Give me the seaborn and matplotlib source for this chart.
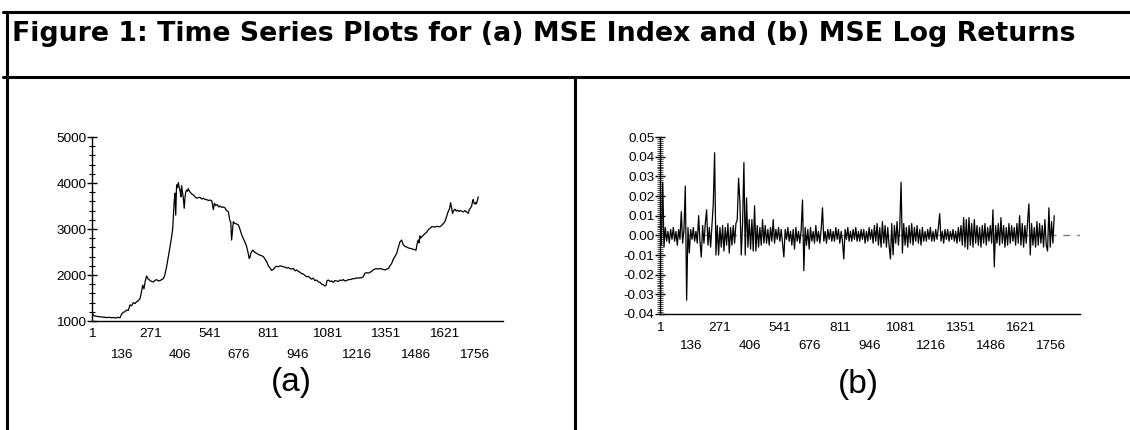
import numpy as np
import matplotlib
matplotlib.use("Agg")
import matplotlib.pyplot as plt
from matplotlib.lines import Line2D
from matplotlib.ticker import MultipleLocator, FormatStrFormatter
import seaborn as sns

# --- data ---
# (a) MSE index level
index_day = [1, 6, 12, 20, 30, 40, 50, 60, 70, 80, 90, 100, 110, 120, 130,
             137, 145, 152, 160, 168, 176, 183, 191, 199, 206, 214, 222, 228, 234, 240,
             245, 252, 258, 268, 275, 283, 290, 298, 306, 314, 322, 329, 336, 344, 352,
             360, 367, 372, 375, 379, 383, 386, 390, 394, 398, 402, 406, 410, 413, 417,
             421, 425, 429, 432, 436, 440, 444, 448, 452, 460, 467, 475, 482, 490, 498,
             506, 514, 521, 528, 536, 544, 552, 559, 564, 570, 577, 584, 590, 598, 605,
             612, 620, 628, 634, 639, 643, 647, 651, 658, 666, 674, 681, 689, 696, 704,
             712, 718, 724, 727, 732, 740, 748, 758, 766, 773, 781, 789, 797, 804, 812,
             820, 827, 835, 843, 850, 858, 866, 873, 881, 889, 896, 904, 911, 919, 927,
             935, 942, 950, 957, 965, 973, 980, 988, 996, 1003, 1010, 1018, 1026, 1034, 1042,
             1050, 1057, 1064, 1072, 1077, 1082, 1088, 1096, 1104, 1110, 1118, 1126, 1134, 1141, 1149,
             1157, 1164, 1172, 1180, 1187, 1195, 1202, 1210, 1218, 1225, 1233, 1241, 1248, 1256, 1264,
             1272, 1280, 1287, 1294, 1302, 1310, 1318, 1325, 1333, 1341, 1349, 1356, 1364, 1371, 1379,
             1386, 1394, 1402, 1410, 1417, 1425, 1432, 1440, 1448, 1455, 1463, 1470, 1478, 1485, 1491,
             1496, 1501, 1505, 1509, 1513, 1517, 1524, 1532, 1540, 1548, 1555, 1563, 1570, 1578, 1586,
             1594, 1601, 1609, 1617, 1624, 1632, 1639, 1645, 1650, 1655, 1659, 1664, 1670, 1676, 1682,
             1688, 1693, 1700, 1708, 1716, 1724, 1731, 1736, 1741, 1747, 1751, 1754, 1758, 1762, 1766,
             1769, 1773, 1777]
index_level = [1160, 1140, 1110, 1105, 1095, 1090, 1085, 1080, 1075, 1080, 1070, 1075, 1065, 1080, 1070,
               1150, 1190, 1200, 1240, 1230, 1350, 1330, 1400, 1380, 1420, 1440, 1490, 1620, 1780, 1700,
               1850, 1980, 1920, 1880, 1860, 1850, 1880, 1900, 1870, 1880, 1900, 1920, 2000, 2180, 2400,
               2620, 2830, 3000, 3270, 3600, 3780, 3300, 3960, 3900, 4010, 3900, 3830, 3700, 3940, 3800,
               3670, 3450, 3700, 3800, 3850, 3820, 3880, 3830, 3800, 3760, 3740, 3700, 3670, 3680, 3690,
               3650, 3670, 3640, 3640, 3620, 3630, 3610, 3420, 3560, 3510, 3530, 3480, 3500, 3470, 3480,
               3460, 3400, 3380, 3200, 3150, 2760, 2950, 3160, 3120, 3110, 3090, 3000, 2880, 2800, 2720,
               2620, 2500, 2360, 2380, 2480, 2540, 2500, 2470, 2450, 2430, 2420, 2400, 2340, 2290, 2200,
               2150, 2100, 2120, 2170, 2190, 2180, 2200, 2190, 2180, 2170, 2150, 2160, 2140, 2130, 2140,
               2090, 2110, 2080, 2060, 2030, 2020, 1990, 1960, 1970, 1940, 1910, 1930, 1880, 1890, 1850,
               1840, 1800, 1790, 1760, 1770, 1880, 1890, 1860, 1870, 1840, 1880, 1870, 1860, 1890, 1880,
               1900, 1870, 1880, 1900, 1900, 1910, 1920, 1920, 1940, 1930, 1940, 1940, 1960, 2040, 2050,
               2040, 2060, 2080, 2110, 2130, 2140, 2130, 2140, 2130, 2120, 2110, 2130, 2140, 2200, 2250,
               2340, 2400, 2470, 2600, 2720, 2760, 2660, 2620, 2610, 2590, 2580, 2570, 2560, 2550, 2540,
               2680, 2760, 2700, 2850, 2800, 2830, 2860, 2900, 2930, 2990, 3010, 3050, 3050, 3040, 3060,
               3050, 3050, 3080, 3120, 3160, 3280, 3380, 3440, 3570, 3450, 3340, 3400, 3430, 3390, 3410,
               3380, 3400, 3390, 3370, 3400, 3370, 3340, 3420, 3450, 3500, 3600, 3640, 3560, 3540, 3580,
               3550, 3620, 3700]

# (b) MSE log returns, sampled along the same day axis
log_ret = [0.003, -0.005, 0.027, -0.006, 0.004, -0.003, 0.002, -0.004, 0.003, -0.002,
           0.004, -0.003, 0.002, -0.005, 0.003, -0.002, 0.012, -0.004, 0.003, 0.025,
           -0.033, 0.004, -0.009, 0.003, -0.002, 0.004, -0.003, 0.002, -0.004, 0.010,
           -0.003, -0.011, 0.005, -0.004, 0.006, 0.013, -0.005, 0.004, -0.006, 0.005,
           0.016, 0.042, -0.010, 0.005, -0.010, 0.004, -0.006, 0.005, -0.008, 0.004,
           -0.005, 0.006, -0.009, 0.004, -0.005, 0.005, -0.004, 0.006, 0.008, 0.029,
           0.017, -0.010, 0.006, 0.037, -0.010, 0.019, -0.006, 0.008, -0.007, 0.008,
           -0.008, 0.015, -0.008, 0.005, -0.006, 0.004, -0.005, 0.008, -0.004, 0.005,
           -0.004, 0.003, -0.005, 0.004, -0.003, 0.008, -0.004, 0.003, -0.002, 0.004,
           -0.003, 0.003, -0.004, -0.011, 0.003, -0.002, 0.004, -0.003, 0.002, -0.005,
           0.003, -0.007, 0.004, -0.003, 0.002, -0.004, 0.003, 0.018, -0.018, 0.004,
           -0.005, 0.003, -0.007, 0.004, -0.003, 0.002, -0.004, 0.005, -0.003, 0.002,
           -0.004, 0.003, 0.014, -0.003, 0.002, -0.004, 0.003, -0.002, 0.003, -0.003,
           0.002, -0.003, 0.004, -0.002, 0.003, -0.004, 0.002, -0.003, -0.012, 0.003,
           -0.002, 0.004, -0.003, 0.002, -0.003, 0.003, -0.002, 0.004, -0.003, 0.002,
           -0.003, 0.003, -0.002, 0.003, -0.004, 0.002, -0.003, 0.004, -0.002, 0.003,
           -0.004, 0.005, -0.003, 0.006, -0.005, 0.004, -0.006, 0.007, -0.004, 0.005,
           -0.006, 0.004, -0.005, -0.012, 0.006, -0.010, 0.005, -0.004, 0.007, -0.005,
           0.004, 0.027, -0.009, 0.006, -0.005, 0.004, -0.006, 0.005, -0.004, 0.006,
           -0.005, 0.004, -0.003, 0.005, -0.004, 0.003, -0.005, 0.004, -0.003, 0.002,
           -0.003, 0.003, -0.002, 0.004, -0.003, 0.002, -0.003, 0.003, -0.002, 0.004,
           0.011, -0.003, 0.002, -0.004, 0.003, -0.002, 0.003, -0.003, 0.002, -0.002,
           0.003, -0.003, 0.002, -0.004, 0.004, -0.003, 0.005, -0.005, 0.009, -0.006,
           0.008, -0.007, 0.009, -0.005, 0.006, -0.006, 0.008, -0.004, 0.005, -0.005,
           0.004, -0.006, 0.005, -0.004, 0.006, -0.005, 0.004, -0.003, 0.005, -0.004,
           0.013, -0.016, 0.005, -0.004, 0.006, -0.005, 0.009, -0.004, 0.005, -0.006,
           0.004, -0.005, 0.006, -0.004, 0.005, -0.003, 0.004, -0.005, 0.006, -0.004,
           0.010, -0.005, 0.006, -0.006, 0.005, -0.004, 0.007, 0.016, -0.010, 0.006,
           -0.005, 0.004, -0.006, 0.007, -0.005, 0.006, -0.004, 0.005, -0.006, 0.008,
           -0.005, -0.008, 0.014, -0.006, 0.007, -0.004, 0.010]
ret_day = np.linspace(1, 1775, len(log_ret))

# x axis ticks: labels alternate over two rows
top_ticks = [1, 271, 541, 811, 1081, 1351, 1621, 1891]
top_labels = ["1", "271", "541", "811", "1081", "1351", "1621", ""]
low_ticks = [136, 406, 676, 946, 1216, 1486, 1756]
low_labels = ["136", "406", "676", "946", "1216", "1486", "1756"]

# --- style ---
sns.set_style("white")
plt.rcParams["font.family"] = ["Liberation Sans", "DejaVu Sans"]
plt.rcParams["axes.unicode_minus"] = False
plt.rcParams["text.color"] = "black"
plt.rcParams["xtick.color"] = "black"
plt.rcParams["ytick.color"] = "black"
plt.rcParams["xtick.labelcolor"] = "black"
plt.rcParams["ytick.labelcolor"] = "black"

W, H = 1130, 430
fig = plt.figure(figsize=(W / 100, H / 100), dpi=100)


def px_axes(x0, x1, y_top, y_bot):
    return fig.add_axes([x0 / W, 1 - y_bot / H, (x1 - x0) / W, (y_bot - y_top) / H])


def style_axis(ax, pad_top, pad_low, minor_len, minor_w):
    for s in ["top", "right"]:
        ax.spines[s].set_visible(False)
    for s in ["left", "bottom"]:
        ax.spines[s].set_color("black")
        ax.spines[s].set_linewidth(1.0)
    ax.set_xlim(1, 1891)
    ax.set_xticks(top_ticks, top_labels)
    ax.set_xticks(low_ticks, low_labels, minor=True)
    ax.tick_params(axis="x", which="both", direction="inout", length=8, width=1,
                   color="black", labelcolor="black", labelsize=9.7)
    ax.tick_params(axis="x", which="major", pad=pad_top)
    ax.tick_params(axis="x", which="minor", pad=pad_low)
    ax.tick_params(axis="y", which="major", direction="inout", length=7, width=1,
                   color="black", labelcolor="black", labelsize=9.7, pad=0.5, left=True)
    ax.tick_params(axis="y", which="minor", direction="inout", length=minor_len,
                   width=minor_w, color="black", left=True)
    ax.set_xlabel("")
    ax.set_ylabel("")


# (a) index
ax1 = px_axes(92, 503, 137, 321)
sns.lineplot(x=index_day, y=index_level, ax=ax1, color="black", linewidth=0.9)
ax1.set_ylim(1000, 5000)
ax1.yaxis.set_major_locator(MultipleLocator(1000))
ax1.yaxis.set_minor_locator(MultipleLocator(200))
style_axis(ax1, 1.0, 16.5, 5, 0.8)

# (b) log returns
ax2 = px_axes(660, 1080, 137, 314)
ax2.axhline(0, color="#808080", linewidth=1, linestyle=(0, (5, 5)), zorder=1)
sns.lineplot(x=ret_day, y=log_ret, ax=ax2, color="black", linewidth=0.9, zorder=2)
ax2.set_ylim(-0.04, 0.05)
ax2.yaxis.set_major_locator(MultipleLocator(0.01))
ax2.yaxis.set_minor_locator(MultipleLocator(0.001))
ax2.yaxis.set_major_formatter(FormatStrFormatter("%.2f"))
style_axis(ax2, 1.5, 14.5, 4, 0.5)

# --- table-like frame around the figure ---
lw = 2.2
fig.add_artist(Line2D([3 / W, 1], [1 - 12 / H] * 2, color="black", lw=lw))
fig.add_artist(Line2D([3 / W, 1], [1 - 77 / H] * 2, color="black", lw=lw))
fig.add_artist(Line2D([7 / W] * 2, [0, 1 - 12 / H], color="black", lw=lw))
fig.add_artist(Line2D([575 / W] * 2, [0, 1 - 77 / H], color="black", lw=lw))

title = fig.text(12 / W, 1 - 34 / H,
                 "Figure 1: Time Series Plots for (a) MSE Index and (b) MSE Log Returns",
                 fontsize=17, fontweight="bold", family="DejaVu Sans", color="black",
                 ha="left", va="center")
# fit the title to the width it has in the reference
fig.canvas.draw()
bb = title.get_window_extent()
title.set_fontsize(17 * 1063 / bb.width)

fig.text(291 / W, 1 - 383 / H, "(a)", fontsize=24, color="black", ha="center", va="center")
fig.text(858 / W, 1 - 384 / H, "(b)", fontsize=24, color="black", ha="center", va="center")

fig.savefig("out.png", dpi=100)
